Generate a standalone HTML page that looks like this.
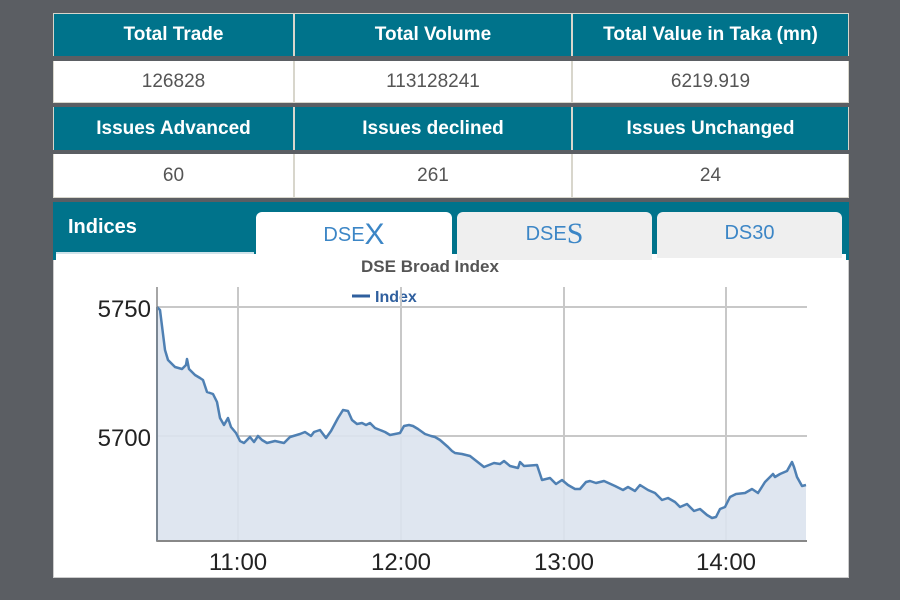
<!DOCTYPE html>
<html><head><style>
body{margin:0;width:900px;height:600px;background:#5b5e63;position:relative;overflow:hidden;font-family:"Liberation Sans",Arial,sans-serif}
.c{position:absolute;display:flex;align-items:center;justify-content:center;box-sizing:border-box}
.h{background:#00738b;color:#fff;font-weight:bold;font-size:19px}
.v{background:#fff;color:#555;font-size:19px}
</style></head><body>
<div style="position:absolute;left:53px;top:13px;width:796px;height:185px;background:#d8d6cc"></div>
<div class="c h" style="left:54px;top:14px;width:239px;height:42px">Total Trade</div>
<div class="c h" style="left:295px;top:14px;width:276px;height:42px">Total Volume</div>
<div class="c h" style="left:573px;top:14px;width:275px;height:42px">Total Value in Taka (mn)</div>
<div style="position:absolute;left:53px;top:56px;width:796px;height:5px;background:#5b5e63"></div>
<div class="c v" style="left:54px;top:61px;width:239px;height:41px">126828</div>
<div class="c v" style="left:295px;top:61px;width:276px;height:41px">113128241</div>
<div class="c v" style="left:573px;top:61px;width:275px;height:41px">6219.919</div>
<div style="position:absolute;left:53px;top:103px;width:796px;height:4px;background:#5b5e63"></div>
<div class="c h" style="left:54px;top:107px;width:239px;height:43px">Issues Advanced</div>
<div class="c h" style="left:295px;top:107px;width:276px;height:43px">Issues declined</div>
<div class="c h" style="left:573px;top:107px;width:275px;height:43px">Issues Unchanged</div>
<div style="position:absolute;left:53px;top:150px;width:796px;height:4px;background:#5b5e63"></div>
<div class="c v" style="left:54px;top:154px;width:239px;height:43px">60</div>
<div class="c v" style="left:295px;top:154px;width:276px;height:43px">261</div>
<div class="c v" style="left:573px;top:154px;width:275px;height:43px">24</div>

<div style="position:absolute;left:53px;top:202px;width:796px;height:376px;background:#fff;border:1px solid #ccc;box-sizing:border-box"></div>
<div style="position:absolute;left:53px;top:202px;width:796px;height:58px;background:#00738b"></div>
<div style="position:absolute;left:56px;top:252px;width:198px;height:2px;background:#cfe3ea"></div>
<div style="position:absolute;left:56px;top:254px;width:790px;height:8px;background:#fff"></div>
<div style="position:absolute;left:68px;top:216px;color:#fff;font-weight:bold;font-size:20px">Indices</div>
<div class="c" style="left:256px;top:212px;width:196px;height:50px;background:#fff;border-radius:6px 6px 0 0;color:#3c86c6;font-size:20px;padding-bottom:4px">DSE<span style="font-size:30px">X</span></div>
<div class="c" style="left:457px;top:212px;width:195px;height:48px;background:#efefef;border-radius:6px 6px 0 0;color:#3c86c6;font-size:20px;padding-bottom:4px">DSE<span style="font-size:30px;font-family:'Liberation Serif',serif">S</span></div>
<div class="c" style="left:657px;top:212px;width:185px;height:46px;background:#efefef;border-radius:6px 6px 0 0;color:#3c86c6;font-size:20px;padding-bottom:4px">DS30</div>

<svg style="position:absolute;left:0;top:0" width="900" height="600">
<text x="430" y="272" text-anchor="middle" font-family="Liberation Sans,Arial" font-weight="bold" font-size="17" fill="#555">DSE Broad Index</text>
<line x1="352" y1="296" x2="370" y2="296" stroke="#2f5f9e" stroke-width="3"/>
<text x="375" y="302" font-family="Liberation Sans,Arial" font-weight="bold" font-size="16" fill="#2f5f9e">Index</text>
<g stroke="#c8c8c8" stroke-width="2">
<line x1="157" y1="307" x2="807" y2="307"/><line x1="157" y1="436" x2="807" y2="436"/>
<line x1="238" y1="287" x2="238" y2="541"/><line x1="401" y1="287" x2="401" y2="541"/>
<line x1="564" y1="287" x2="564" y2="541"/><line x1="726" y1="287" x2="726" y2="541"/>
</g>
<polygon fill="#dbe3ee" fill-opacity="0.9" points="157,541 157,307 160,310 165,350 168,360 175,367 182,369 186,365 187,359 189,369 195,375 200,378 203,380 207,392 213,394 217,402 220,418 224,425 228,418 231,427 236,433 240,441 244,443 250,437 254,442 258,436 262,440 267,443 275,441 284,443 290,437 300,434 305,432 311,436 314,432 320,430 326,438 331,431 338,418 343,410 348,411 352,420 357,424 362,423 366,425 370,423 375,428 385,432 390,435 395,434 400,433 404,426 409,425 413,426 418,429 425,434 431,436 435,437 440,440 448,447 452,451 455,453 462,454 470,456 484,467 494,463 500,464 504,461 510,466 518,468 520,462 524,466 537,465 542,480 550,478 556,484 562,480 568,485 575,489 580,489 586,482 590,481 596,483 604,481 615,486 623,490 628,487 635,491 640,485 648,490 655,493 662,500 668,498 675,502 680,507 687,504 694,511 700,509 707,515 712,518 716,517 720,509 725,507 730,497 736,494 745,493 752,489 758,493 765,482 770,477 773,474 775,477 780,474 787,471 792,462 794,467 797,477 802,486 806,485 806,541"/>
<polyline fill="none" stroke="#4f80b3" stroke-width="2.5" stroke-linejoin="round" points="157,307 160,310 165,350 168,360 175,367 182,369 186,365 187,359 189,369 195,375 200,378 203,380 207,392 213,394 217,402 220,418 224,425 228,418 231,427 236,433 240,441 244,443 250,437 254,442 258,436 262,440 267,443 275,441 284,443 290,437 300,434 305,432 311,436 314,432 320,430 326,438 331,431 338,418 343,410 348,411 352,420 357,424 362,423 366,425 370,423 375,428 385,432 390,435 395,434 400,433 404,426 409,425 413,426 418,429 425,434 431,436 435,437 440,440 448,447 452,451 455,453 462,454 470,456 484,467 494,463 500,464 504,461 510,466 518,468 520,462 524,466 537,465 542,480 550,478 556,484 562,480 568,485 575,489 580,489 586,482 590,481 596,483 604,481 615,486 623,490 628,487 635,491 640,485 648,490 655,493 662,500 668,498 675,502 680,507 687,504 694,511 700,509 707,515 712,518 716,517 720,509 725,507 730,497 736,494 745,493 752,489 758,493 765,482 770,477 773,474 775,477 780,474 787,471 792,462 794,467 797,477 802,486 806,485"/>
<line x1="157" y1="307" x2="157" y2="541" stroke="#4f80b3" stroke-width="2"/>
<line x1="157" y1="287" x2="157" y2="542" stroke="#888" stroke-width="1.5"/>
<line x1="157" y1="541" x2="807" y2="541" stroke="#888" stroke-width="2"/>
<g font-family="Liberation Sans,Arial" font-size="24" fill="#222">
<text x="151" y="317" text-anchor="end">5750</text>
<text x="151" y="446" text-anchor="end">5700</text>
<text x="238" y="570" text-anchor="middle">11:00</text>
<text x="401" y="570" text-anchor="middle">12:00</text>
<text x="564" y="570" text-anchor="middle">13:00</text>
<text x="726" y="570" text-anchor="middle">14:00</text>
</g>
</svg>
</body></html>
